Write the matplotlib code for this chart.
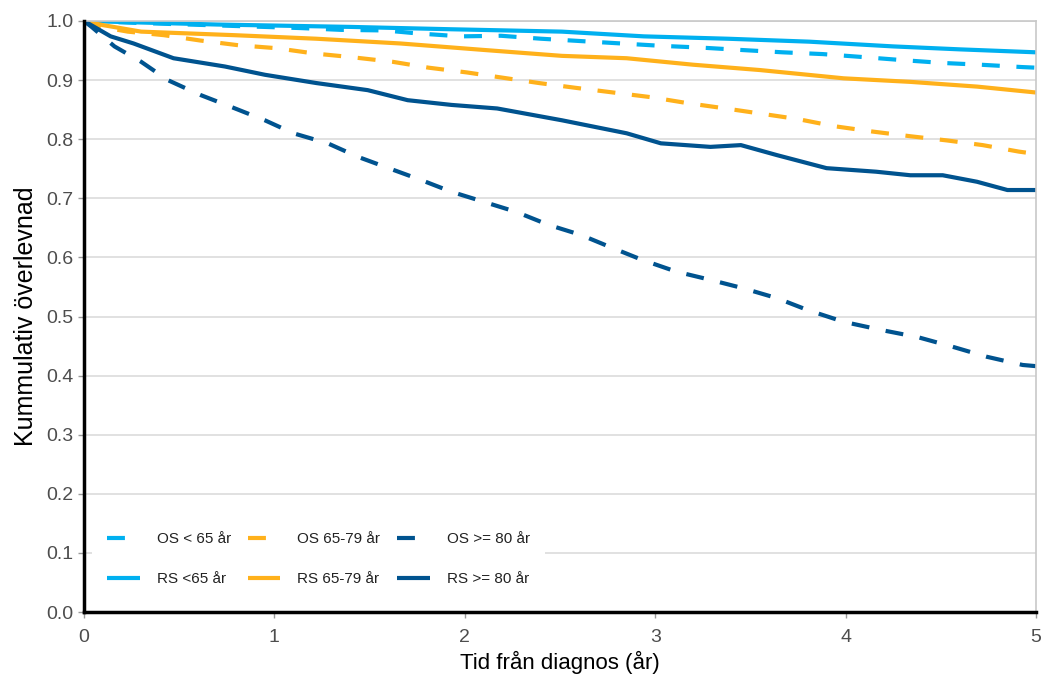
import matplotlib
matplotlib.use("Agg")
import matplotlib.pyplot as plt

# (time in years, cumulative survival)

t_os_u65 = [0, 0.35, 0.75, 1.14, 1.35, 1.58, 1.75, 1.98, 2.19, 2.40, 2.61, 2.82,
            3.03, 3.24, 3.45, 3.67, 3.88, 4.09, 4.29, 4.51, 4.71, 4.93, 5.0]
v_os_u65 = [1.0, 0.996, 0.992, 0.988, 0.985, 0.984, 0.979, 0.974, 0.975, 0.970,
            0.966, 0.962, 0.958, 0.955, 0.951, 0.947, 0.944, 0.939, 0.934, 0.929,
            0.926, 0.922, 0.921]

t_rs_u65 = [0, 0.70, 1.40, 1.93, 2.51, 2.94, 3.38, 3.81, 4.25, 4.60, 5.0]
v_rs_u65 = [1.0, 0.994, 0.990, 0.986, 0.982, 0.974, 0.970, 0.965, 0.957, 0.952, 0.947]

t_os_6579 = [0, 0.09, 0.23, 0.42, 0.61, 0.81, 1.01, 1.21, 1.40, 1.62, 1.81, 2.01,
             2.20, 2.39, 2.58, 2.78, 2.98, 3.17, 3.37, 3.56, 3.75, 3.94, 4.14,
             4.34, 4.53, 4.72, 4.91, 5.0]
v_os_6579 = [1.0, 0.990, 0.982, 0.976, 0.967, 0.959, 0.954, 0.945, 0.939, 0.931,
             0.921, 0.913, 0.904, 0.895, 0.887, 0.879, 0.871, 0.861, 0.852, 0.843,
             0.834, 0.822, 0.813, 0.805, 0.798, 0.790, 0.779, 0.775]

t_rs_6579 = [0, 0.10, 0.30, 0.79, 1.22, 1.66, 2.10, 2.51, 2.85, 3.20, 3.55, 3.99,
             4.34, 4.69, 5.0]
v_rs_6579 = [1.0, 0.993, 0.982, 0.976, 0.970, 0.962, 0.951, 0.941, 0.937, 0.926,
             0.917, 0.903, 0.897, 0.889, 0.879]

t_os_80 = [0, 0.04, 0.16, 0.30, 0.44, 0.61, 0.77, 0.95, 1.10, 1.28, 1.44, 1.60,
           1.77, 1.93, 2.10, 2.27, 2.44, 2.61, 2.76, 2.93, 3.11, 3.29, 3.46, 3.64,
           3.80, 3.99, 4.19, 4.38, 4.56, 4.74, 4.93, 5.0]
v_os_80 = [1.0, 0.990, 0.957, 0.931, 0.900, 0.875, 0.855, 0.832, 0.810, 0.793,
           0.770, 0.751, 0.731, 0.711, 0.694, 0.677, 0.655, 0.638, 0.618, 0.596,
           0.576, 0.562, 0.548, 0.531, 0.511, 0.491, 0.477, 0.465, 0.449, 0.432,
           0.418, 0.416]

t_rs_80 = [0, 0.14, 0.26, 0.47, 0.74, 0.95, 1.22, 1.49, 1.70, 1.93, 2.17, 2.51,
           2.85, 3.03, 3.29, 3.45, 3.64, 3.90, 4.16, 4.34, 4.51, 4.69, 4.85, 5.0]
v_rs_80 = [1.0, 0.974, 0.962, 0.937, 0.923, 0.909, 0.895, 0.883, 0.866, 0.858,
           0.852, 0.832, 0.810, 0.793, 0.787, 0.790, 0.773, 0.751, 0.745, 0.739,
           0.739, 0.728, 0.714, 0.714]

labels_os = ["OS < 65 år", "OS 65-79 år", "OS >= 80 år"]
labels_rs = ["RS <65 år", "RS 65-79 år", "RS >= 80 år"]
x_ticks = [0, 1, 2, 3, 4, 5]
y_ticks = [i / 10 for i in range(11)]

colors = ["#00B0F0", "#FFB11B", "#00538F"]

plt.rcParams["font.family"] = ["Liberation Sans", "DejaVu Sans"]

fig = plt.figure(figsize=(10.41, 6.75), dpi=100)
ax = fig.add_axes([0.0807, 0.0933, 0.9145, 0.8756])

dash = (4.3, 4.0)
groups = [
    (t_os_u65, v_os_u65, t_rs_u65, v_rs_u65),
    (t_os_6579, v_os_6579, t_rs_6579, v_rs_6579),
    (t_os_80, v_os_80, t_rs_80, v_rs_80),
]
handles = []
for (to, vo, tr, vr), c, lo, lr in zip(groups, colors, labels_os, labels_rs):
    h_os, = ax.plot(to, vo, color=c, lw=3, dashes=dash, label=lo,
                    solid_capstyle="butt", dash_capstyle="butt")
    h_rs, = ax.plot(tr, vr, color=c, lw=3, label=lr, solid_capstyle="butt")
    handles += [h_os, h_rs]

ax.set_xlim(0, 5)
ax.set_ylim(0, 1)
ax.set_xticks(x_ticks)
ax.set_yticks(y_ticks)
ax.set_yticklabels([f"{y:.1f}" for y in y_ticks])
ax.tick_params(axis="both", colors="#9a9a9a", labelcolor="#4d4d4d",
               labelsize=14, length=4, width=1)
ax.tick_params(axis="x", pad=8)

ax.grid(axis="y", color="#dcdcdc", lw=1.2)
ax.set_axisbelow(True)
for side in ["top", "right"]:
    ax.spines[side].set_color("#c8c8c8")
    ax.spines[side].set_linewidth(1.2)
for side in ["left", "bottom"]:
    ax.spines[side].set_color("black")
    ax.spines[side].set_linewidth(2.5)
    ax.spines[side].set_zorder(5)

ax.set_xlabel("Tid från diagnos (år)", fontsize=16, labelpad=4)
ax.set_ylabel("Kummulativ överlevnad", fontsize=18, labelpad=6)

leg = ax.legend(handles=handles, ncol=3, loc="lower left",
                bbox_to_anchor=(0.0, 0.005), fontsize=11, frameon=True,
                facecolor="white", edgecolor="none", framealpha=1,
                handlelength=2.15, handletextpad=1.1, columnspacing=1.1,
                labelspacing=1.7, borderpad=1.0, borderaxespad=0.5,
                fancybox=False)
for txt in leg.get_texts():
    txt.set_color("#222222")

fig.savefig("out.png", dpi=100)
